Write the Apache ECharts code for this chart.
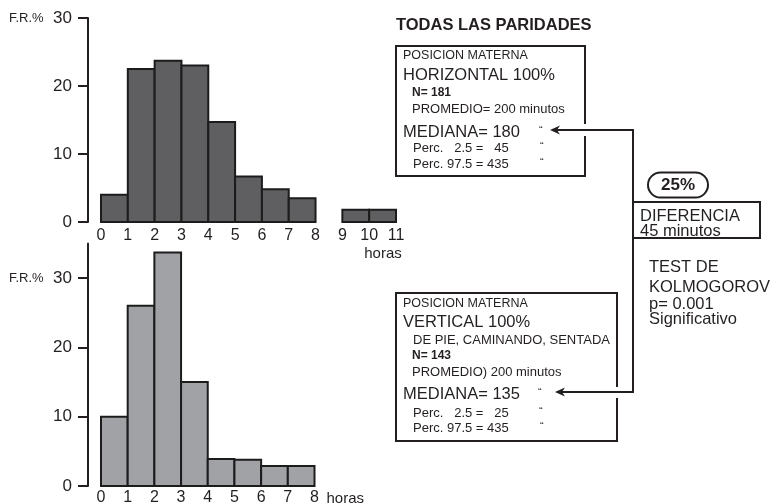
<!DOCTYPE html>
<html><head><meta charset="utf-8">
<script src="https://cdn.jsdelivr.net/npm/echarts@6/dist/echarts.min.js"></script>
<style>html,body{margin:0;padding:0;background:#fff;overflow:hidden}#c{width:774px;height:504px}</style>
</head><body><div id="c"></div>
<script>
// ---- data ----
const topBinStarts = [0, 1, 2, 3, 4, 5, 6, 7, 9, 10];
const topValues = [4, 22.5, 23.7, 23, 14.7, 6.7, 4.8, 3.5, 1.8, 1.8];
const bottomBinStarts = [0, 1, 2, 3, 4, 5, 6, 7];
const bottomValues = [10, 26, 33.7, 15, 3.9, 3.8, 2.9, 2.9];
const topXMax = 11;
const bottomXMax = 8;
const topYMax = 30;
const bottomYMax = 35;
const yTickValues = [0, 10, 20, 30];
const xUnitLabel = 'horas';
const yUnitLabel = 'F.R.%';

const FONT = "'Liberation Sans', Arial, Helvetica, sans-serif";
const INK = '#231f20';

function toBins(starts, values) {
  return starts.map((s, i) => [s, s + 1, values[i]]);
}

function barRenderer(fill) {
  return function (params, api) {
    const p0 = api.coord([api.value(0), 0]);
    const p1 = api.coord([api.value(1), api.value(2)]);
    return {
      type: 'rect',
      shape: { x: p0[0], y: p1[1], width: p1[0] - p0[0], height: p0[1] - p1[1] },
      style: { fill: fill, stroke: '#1c1c1c', lineWidth: 2 }
    };
  };
}

function yAxisCfg(gridIndex, max) {
  return {
    type: 'value', gridIndex: gridIndex, min: 0, max: max, offset: 13,
    axisLine: { show: true, onZero: false, lineStyle: { color: INK, width: 2 } },
    axisTick: { show: true, length: 10, lineStyle: { color: INK, width: 2 }, customValues: yTickValues },
    axisLabel: {
      margin: 16, color: INK, fontFamily: FONT, fontSize: 17,
      customValues: yTickValues,
      formatter: v => v === 30 ? '{u|' + yUnitLabel + '}  {n|' + v + '}' : '{n|' + v + '}',
      rich: { u: { fontSize: 13, fontFamily: FONT, color: INK }, n: { fontSize: 17, fontFamily: FONT, color: INK } }
    },
    splitLine: { show: false }
  };
}

function xAxisCfg(gridIndex, max, margin, nameCfg) {
  return Object.assign({
    type: 'value', gridIndex: gridIndex, min: 0, max: max, interval: 1,
    axisLine: { show: false, onZero: false }, axisTick: { show: false }, splitLine: { show: false },
    axisLabel: { margin: margin, color: INK, fontFamily: FONT, fontSize: 16, hideOverlap: false }
  }, nameCfg);
}

function txt(x, y, text, size, opts) {
  opts = opts || {};
  return {
    type: 'text', x: x, y: y, silent: true,
    style: {
      text: text, fill: INK,
      font: (opts.bold ? 'bold ' : '') + size + 'px ' + FONT,
      align: opts.align || 'left', verticalAlign: 'middle'
    }
  };
}
function rect(x, y, w, h, r) {
  return { type: 'rect', silent: true, shape: { x: x, y: y, width: w, height: h, r: r || 0 },
    style: { fill: 'none', stroke: INK, lineWidth: 2 } };
}
function whiteRect(x, y, w, h) {
  return { type: 'rect', silent: true, shape: { x: x, y: y, width: w, height: h }, style: { fill: '#fff' } };
}
function line(points) {
  return { type: 'polyline', silent: true, shape: { points: points }, style: { stroke: INK, lineWidth: 2, fill: 'none' } };
}
function arrowHead(x, y) {
  return { type: 'polygon', silent: true, shape: { points: [[x, y], [x + 10, y - 4.5], [x + 7, y], [x + 10, y + 4.5]] },
    style: { fill: INK } };
}

const graphics = [
  txt(396, 25, 'TODAS LAS PARIDADES', 16.5, { bold: true }),
  // box 1
  rect(396, 46, 189, 130),
  txt(403, 56, 'POSICION MATERNA', 12.5),
  txt(403, 75, 'HORIZONTAL 100%', 16.5),
  txt(412, 93, 'N= 181', 12, { bold: true }),
  txt(412, 109, 'PROMEDIO= 200 minutos', 13),
  txt(403, 132, 'MEDIANA= 180', 16.5),
  txt(539, 131, '\u201c', 11),
  txt(413, 148, 'Perc.   2.5 =   45', 13),
  txt(540, 147, '\u201c', 11),
  txt(413, 164, 'Perc. 97.5 = 435', 13),
  txt(540, 163, '\u201c', 11),
  // box 2
  rect(396, 293, 221, 148),
  txt(403, 304, 'POSICION MATERNA', 12.5),
  txt(403, 322, 'VERTICAL 100%', 16.5),
  txt(413, 340, 'DE PIE, CAMINANDO, SENTADA', 13),
  txt(412, 356, 'N= 143', 12, { bold: true }),
  txt(412, 372, 'PROMEDIO) 200 minutos', 13),
  txt(403, 394, 'MEDIANA= 135', 16.5),
  txt(538, 393, '\u201c', 11),
  txt(413, 413, 'Perc.   2.5 =   25', 13),
  txt(539, 412, '\u201c', 11),
  txt(413, 428, 'Perc. 97.5 = 435', 13),
  txt(540, 427, '\u201c', 11),
  // gaps in box borders where arrows enter
  whiteRect(582, 124, 6, 12),
  whiteRect(614, 387, 6, 11),
  // connectors
  line([[633, 202], [633, 130], [556, 130]]),
  arrowHead(550, 130),
  line([[633, 238], [633, 392], [561, 392]]),
  arrowHead(555, 392),
  // difference box
  rect(633, 202, 127, 36),
  txt(640, 216.5, 'DIFERENCIA', 16.5),
  txt(640, 231.5, '45 minutos', 16.5),
  rect(648, 172.5, 60, 25, 12.5),
  txt(678, 185, '25%', 17, { bold: true, align: 'center' }),
  txt(649, 267, 'TEST DE', 16.5),
  txt(649, 287, 'KOLMOGOROV', 16.5),
  txt(649, 304, 'p= 0.001', 16.5),
  txt(649, 319, 'Significativo', 16.5)
];

const option = {
  animation: false,
  backgroundColor: '#ffffff',
  grid: [
    { left: 101, top: 18, width: 295, height: 204, outerBoundsMode: 'none', containLabel: false },
    { left: 101, top: 243.5, width: 213.5, height: 242.5, outerBoundsMode: 'none', containLabel: false }
  ],
  xAxis: [
    xAxisCfg(0, topXMax, 6, {
      name: xUnitLabel, nameLocation: 'end', nameGap: -13,
      nameTextStyle: { color: INK, fontFamily: FONT, fontSize: 15, align: 'center', verticalAlign: 'top', padding: [24, 0, 0, 0] }
    }),
    xAxisCfg(1, bottomXMax, 4, {
      name: xUnitLabel, nameLocation: 'end', nameGap: 12,
      nameTextStyle: { color: INK, fontFamily: FONT, fontSize: 15, align: 'left', verticalAlign: 'top', padding: [5, 0, 0, 0] }
    })
  ],
  yAxis: [yAxisCfg(0, topYMax), yAxisCfg(1, bottomYMax)],
  series: [
    { type: 'custom', xAxisIndex: 0, yAxisIndex: 0, renderItem: barRenderer('#5f5f62'),
      encode: { x: [0, 1], y: 2 }, data: toBins(topBinStarts, topValues), clip: false },
    { type: 'custom', xAxisIndex: 1, yAxisIndex: 1, renderItem: barRenderer('#a0a2a5'),
      encode: { x: [0, 1], y: 2 }, data: toBins(bottomBinStarts, bottomValues), clip: false }
  ],
  graphic: { elements: graphics }
};

const chart = echarts.init(document.getElementById('c'), null, { renderer: 'canvas' });
chart.setOption(option);
</script>
</body></html>
